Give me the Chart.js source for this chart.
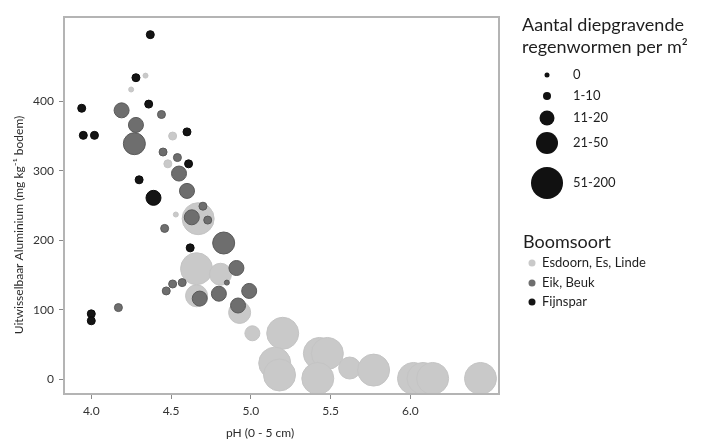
<!DOCTYPE html>
<html><head><meta charset="utf-8">
<script src="https://cdn.jsdelivr.net/npm/chart.js@4/dist/chart.umd.min.js"></script>
<style>html,body{margin:0;padding:0;background:#fff}#wrap{width:719px;height:442px}</style>
</head><body><div id="wrap"><canvas id="c" width="719" height="442"></canvas></div>
<script>
// ---- data ----
const sizeClasses = ['0', '1-10', '11-20', '21-50', '51-200'];
const speciesNames = ['Esdoorn, Es, Linde', 'Eik, Beuk', 'Fijnspar'];
const xTicks = [4.0, 4.5, 5.0, 5.5, 6.0];
const yTicks = [0, 100, 200, 300, 400];
const xTitle = 'pH (0 - 5 cm)';
const yTitle = 'Uitwisselbaar Aluminium (mg kg\u207B\u00B9 bodem)';
const sizeTitle = ['Aantal diepgravende', 'regenwormen per m\u00B2'];
const speciesTitle = 'Boomsoort';

// Esdoorn, Es, Linde
const esdoornPH   = [4.34, 4.25, 4.51, 4.48, 4.53, 4.67, 4.66, 4.81, 4.66, 4.93, 5.01, 5.20, 5.15, 5.18, 5.43, 5.48, 5.42, 5.62, 5.77, 6.02, 6.08, 6.14, 6.44];
const esdoornAl   = [437, 417, 350, 310, 237, 231, 159, 151, 120, 96, 66, 66, 23, 6, 37, 37, 1, 16, 13, 1, 1, 1, 1];
const esdoornSize = [0, 0, 1, 1, 0, 4, 4, 3, 3, 3, 2, 4, 4, 4, 4, 4, 4, 3, 4, 4, 4, 4, 4];

// Eik, Beuk
const eikPH   = [4.19, 4.44, 4.28, 4.27, 4.45, 4.54, 4.55, 4.60, 4.63, 4.70, 4.73, 4.46, 4.83, 4.91, 4.51, 4.57, 4.47, 4.85, 4.68, 4.80, 4.99, 4.92, 4.17];
const eikAl   = [387, 381, 366, 339, 327, 319, 296, 271, 233, 249, 229, 217, 196, 160, 137, 139, 127, 139, 116, 123, 127, 106, 103];
const eikSize = [2, 1, 2, 3, 1, 1, 2, 2, 2, 1, 1, 1, 3, 2, 1, 1, 1, 0, 2, 2, 2, 2, 1];

// Fijnspar
const fijnPH   = [4.37, 4.28, 3.94, 4.36, 3.95, 4.02, 4.60, 4.61, 4.30, 4.39, 4.62, 4.00, 4.00];
const fijnAl   = [496, 434, 390, 396, 351, 351, 356, 310, 287, 261, 189, 94, 84];
const fijnSize = [1, 1, 1, 1, 1, 1, 1, 1, 1, 2, 1, 1, 1];

// ---- styles ----
const radiusBySize = [2.5, 4, 7.5, 11, 16];
const speciesFill = ['#c9c9c9', '#6e6e6e', '#141414'];
const speciesBorder = ['#c4c4c4', '#5a5a5a', '#0a0a0a'];
const FONT = 'Lato, "Open Sans", sans-serif';

function build(ph, al, sz) {
  return ph.map((x, i) => ({ x: x, y: al[i], r: radiusBySize[sz[i]] }));
}

const datasets = [
  { label: speciesNames[0], data: build(esdoornPH, esdoornAl, esdoornSize), backgroundColor: speciesFill[0], borderColor: speciesBorder[0], borderWidth: 1, order: 3 },
  { label: speciesNames[1], data: build(eikPH, eikAl, eikSize), backgroundColor: speciesFill[1], borderColor: speciesBorder[1], borderWidth: 1, order: 2 },
  { label: speciesNames[2], data: build(fijnPH, fijnAl, fijnSize), backgroundColor: speciesFill[2], borderColor: speciesBorder[2], borderWidth: 1, order: 1 }
];

const decor = {
  id: 'decor',
  afterDraw(chart) {
    const ctx = chart.ctx;
    const a = chart.chartArea;
    ctx.save();
    // plot frame
    ctx.strokeStyle = '#b4b4b4';
    ctx.lineWidth = 2;
    ctx.strokeRect(a.left, a.top, a.right - a.left, a.bottom - a.top);

    // axis titles
    ctx.fillStyle = '#2a2a2a';
    ctx.font = '12px ' + FONT;
    ctx.textAlign = 'center';
    ctx.textBaseline = 'middle';
    ctx.fillText(xTitle, 260, 433);
    ctx.save();
    ctx.translate(19, 225);
    ctx.rotate(-Math.PI / 2);
    ctx.fillText(yTitle, 0, 0);
    ctx.restore();

    // size legend
    ctx.textAlign = 'left';
    ctx.textBaseline = 'alphabetic';
    ctx.fillStyle = '#1e1e1e';
    ctx.font = '18px ' + FONT;
    ctx.fillText(sizeTitle[0], 522, 31);
    ctx.fillText(sizeTitle[1], 522, 53);
    const rowY = [75, 96, 118, 143, 183];
    ctx.font = '13px ' + FONT;
    ctx.textBaseline = 'middle';
    sizeClasses.forEach((lab, i) => {
      ctx.beginPath();
      ctx.fillStyle = '#111';
      ctx.arc(547, rowY[i], radiusBySize[i], 0, Math.PI * 2);
      ctx.fill();
      ctx.fillStyle = '#1e1e1e';
      ctx.fillText(lab, 573, rowY[i]);
    });

    // species legend
    ctx.textBaseline = 'alphabetic';
    ctx.font = '18px ' + FONT;
    ctx.fillText(speciesTitle, 523, 248);
    ctx.font = '13px ' + FONT;
    ctx.textBaseline = 'middle';
    const spY = [263, 283, 302];
    speciesNames.forEach((lab, i) => {
      ctx.beginPath();
      ctx.fillStyle = speciesFill[i];
      ctx.arc(532, spY[i], 3.5, 0, Math.PI * 2);
      ctx.fill();
      ctx.fillStyle = '#1e1e1e';
      ctx.fillText(lab, 542, spY[i]);
    });
    ctx.restore();
  }
};

new Chart(document.getElementById('c'), {
  type: 'bubble',
  data: { datasets: datasets },
  options: {
    responsive: false,
    devicePixelRatio: 1,
    animation: false,
    layout: { padding: { left: 0, right: 220, top: 14, bottom: 0 } },
    plugins: { legend: { display: false }, tooltip: { enabled: false } },
    scales: {
      x: {
        type: 'linear',
        min: 3.829,
        max: 6.556,
        afterBuildTicks: s => { s.ticks = xTicks.map(v => ({ value: v })); },
        afterFit: s => { s.height = 48; },
        ticks: { callback: v => Number(v).toFixed(1), color: '#333', font: { size: 12, family: FONT }, padding: 5, maxRotation: 0, autoSkip: false },
        grid: { drawOnChartArea: false, drawTicks: true, tickLength: 5, color: '#8a8a8a' },
        border: { display: false }
      },
      y: {
        type: 'linear',
        min: -21.4,
        max: 521.4,
        afterBuildTicks: s => { s.ticks = yTicks.map(v => ({ value: v })); },
        afterFit: s => { s.width = 64; },
        ticks: { color: '#333', font: { size: 12, family: FONT }, padding: 5, autoSkip: false },
        grid: { drawOnChartArea: false, drawTicks: true, tickLength: 5, color: '#8a8a8a' },
        border: { display: false }
      }
    }
  },
  plugins: [decor]
});
</script>
</body></html>
